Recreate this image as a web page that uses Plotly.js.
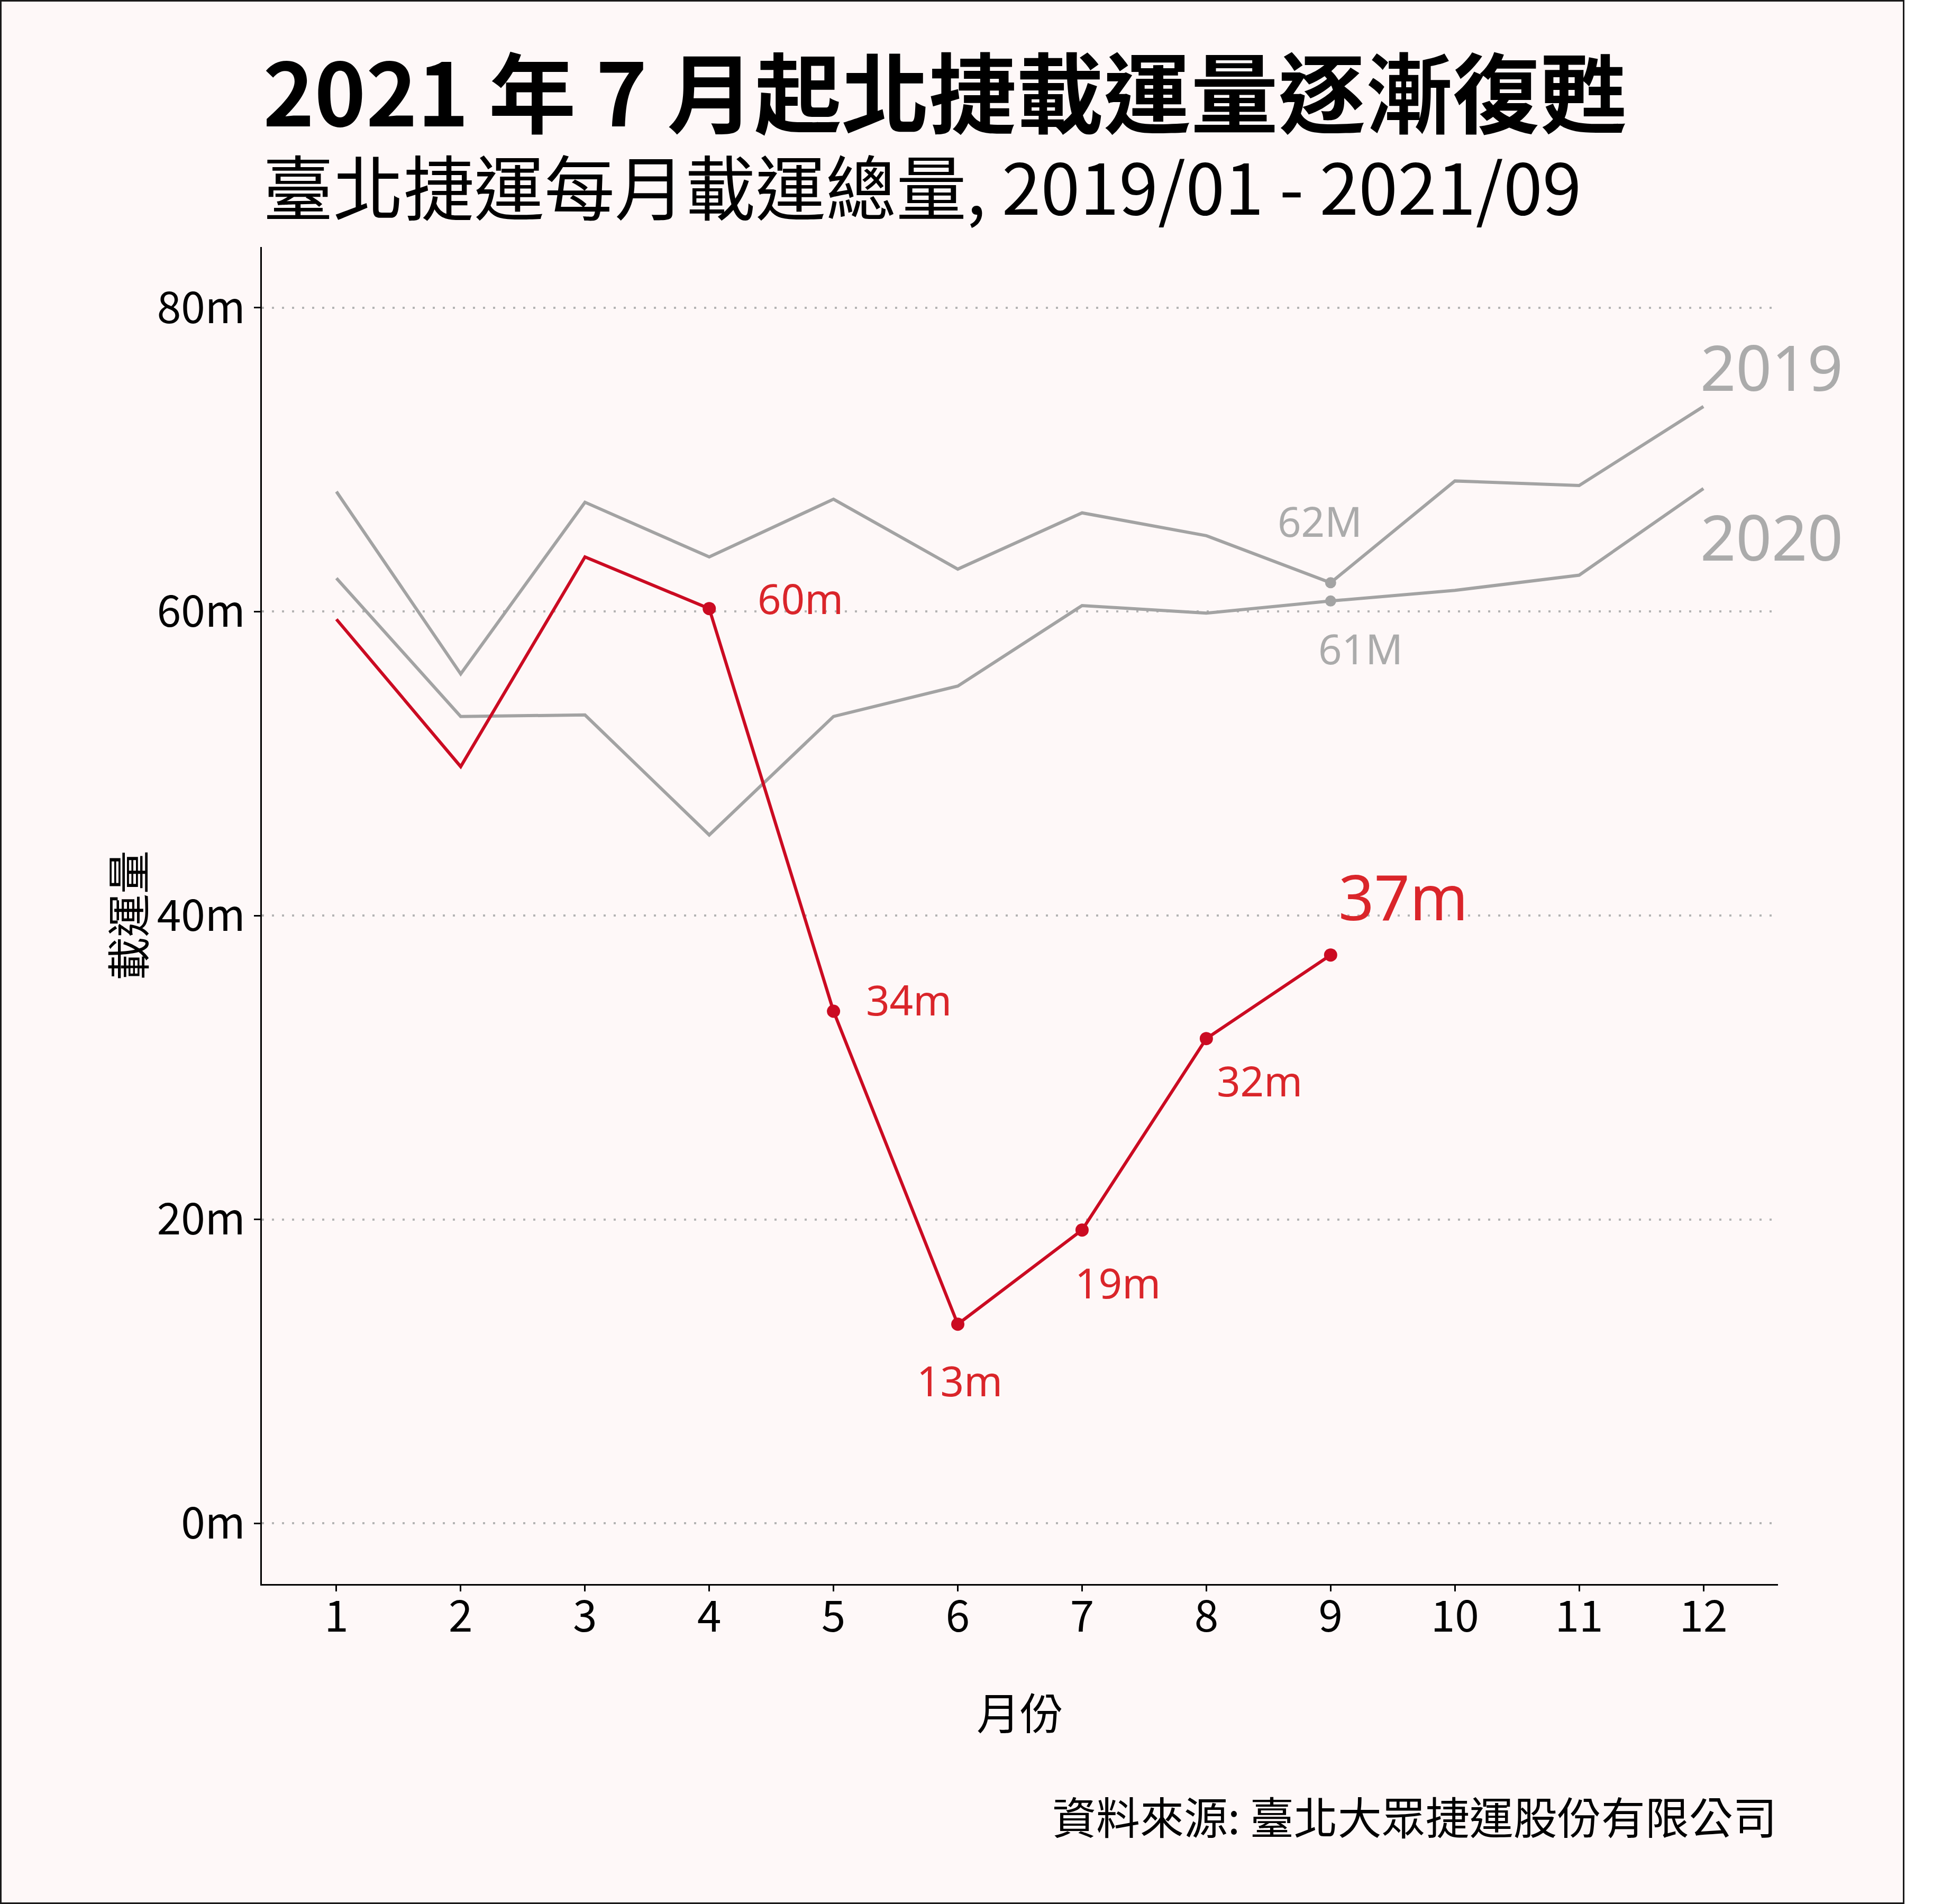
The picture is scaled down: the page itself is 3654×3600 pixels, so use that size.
<!DOCTYPE html>
<html>
<head>
<meta charset="utf-8">
<script src="https://cdn.plot.ly/plotly-3.0.1.min.js"></script>
<style>
html, body { margin: 0; padding: 0; background: #ffffff; }
#chart { position: absolute; left: 0; top: 0; width: 3600px; height: 3600px; }
#frame { position: absolute; left: 0; top: 0; width: 3600px; height: 3600px; box-sizing: border-box; border: 3px solid #1a1a1a; pointer-events: none; }
</style>
</head>
<body>
<div id="chart"></div>
<div id="frame"></div>
<script>
// ---- data (millions of riders per month) ----
const months = [1, 2, 3, 4, 5, 6, 7, 8, 9, 10, 11, 12];
const ridership2019 = [67.9, 55.9, 67.2, 63.6, 67.4, 62.8, 66.5, 65.0, 61.9, 68.6, 68.3, 73.5];
const ridership2020 = [62.2, 53.1, 53.2, 45.3, 53.1, 55.1, 60.4, 59.9, 60.7, 61.4, 62.4, 68.1];
const ridership2021 = [59.5, 49.8, 63.6, 60.2, 33.7, 13.1, 19.3, 31.9, 37.4];
const yTickVals = [0, 20, 40, 60, 80];
const yTickText = ['0m', '20m', '40m', '60m', '80m'];
const labelMonths2021 = [4, 5, 6, 7, 8, 9];
const labels2021 = ['60m', '34m', '13m', '19m', '32m', '37m'];
const label2019Sep = '62M';
const label2020Sep = '61M';
const seriesNames = ['2019', '2020', '2021'];

const RED = '#CB0B22';
const RED_TXT = '#DA252A';
const GREY = '#A3A3A3';
const GREY_TXT = '#ABABAB';
const CJK = '"Noto Sans CJK TC", "Noto Sans CJK SC", sans-serif';
const LAT = '"Noto Sans", "Open Sans", sans-serif';

const traces = [
  { x: months, y: ridership2019, mode: 'lines', line: { color: GREY, width: 6 }, name: seriesNames[0], hoverinfo: 'skip' },
  { x: months, y: ridership2020, mode: 'lines', line: { color: GREY, width: 6 }, name: seriesNames[1], hoverinfo: 'skip' },
  { x: [months[8], months[8]], y: [ridership2019[8], ridership2020[8]], mode: 'markers',
    marker: { color: GREY, size: 21 }, hoverinfo: 'skip' },
  { x: months.slice(0, ridership2021.length), y: ridership2021, mode: 'lines', line: { color: RED, width: 6 }, name: seriesNames[2], hoverinfo: 'skip' },
  { x: labelMonths2021, y: labelMonths2021.map(m => ridership2021[m - 1]), mode: 'markers',
    marker: { color: RED, size: 25 }, hoverinfo: 'skip' }
];

// label offsets (px) relative to each point
const offs2021 = [[172, 20], [142, 22], [3, -106], [68, -99], [101, -79], [137, 111]];
const annotations = [];
labelMonths2021.forEach((m, i) => {
  annotations.push({
    x: m, y: ridership2021[m - 1], xref: 'x', yref: 'y', text: labels2021[i], showarrow: false,
    xshift: offs2021[i][0], yshift: offs2021[i][1],
    font: { family: LAT, size: i === labels2021.length - 1 ? 118 : 78, color: RED_TXT }
  });
});
annotations.push({ x: months[8], y: ridership2019[8], xref: 'x', yref: 'y', text: label2019Sep, showarrow: false,
  xshift: -20, yshift: 117, font: { family: LAT, size: 78, color: GREY_TXT } });
annotations.push({ x: months[8], y: ridership2020[8], xref: 'x', yref: 'y', text: label2020Sep, showarrow: false,
  xshift: 57, yshift: -90, font: { family: LAT, size: 78, color: GREY_TXT } });
annotations.push({ x: months[11], y: ridership2019[11], xref: 'x', yref: 'y', text: seriesNames[0], showarrow: false,
  xshift: 129, yshift: 75, font: { family: LAT, size: 118, color: GREY_TXT } });
annotations.push({ x: months[11], y: ridership2020[11], xref: 'x', yref: 'y', text: seriesNames[1], showarrow: false,
  xshift: 129, yshift: -91, font: { family: LAT, size: 118, color: GREY_TXT } });

// titles and captions
annotations.push({ xref: 'paper', yref: 'paper', x: 0, y: 1.1185, xanchor: 'left', yanchor: 'middle', showarrow: false,
  text: '2021 年 7 月起北捷載運量逐漸復甦', font: { family: CJK, size: 165, color: '#000', weight: 700 } });
annotations.push({ xref: 'paper', yref: 'paper', x: 0, y: 1.047, xanchor: 'left', yanchor: 'middle', showarrow: false,
  text: '臺北捷運每月載運總量, 2019/01 - 2021/09', font: { family: CJK, size: 133, color: '#000' } });
annotations.push({ xref: 'paper', yref: 'paper', x: 0.5, y: -0.0949, xanchor: 'center', yanchor: 'middle', showarrow: false,
  text: '月份', font: { family: CJK, size: 82, color: '#000' } });
annotations.push({ xref: 'paper', yref: 'paper', x: -0.0897, y: 0.5, xanchor: 'center', yanchor: 'middle', showarrow: false,
  textangle: -90, text: '載運量', font: { family: CJK, size: 82, color: '#000' } });
annotations.push({ xref: 'paper', yref: 'paper', x: 1, y: -0.1729, xanchor: 'right', yanchor: 'middle', showarrow: false,
  text: '資料來源: 臺北大眾捷運股份有限公司', font: { family: CJK, size: 83, color: '#000' } });

const layout = {
  width: 3600, height: 3600,
  paper_bgcolor: '#FEF8F8', plot_bgcolor: '#FEF8F8',
  margin: { l: 495, r: 239, t: 467, b: 605, pad: 0 },
  showlegend: false,
  xaxis: {
    range: [0.4, 12.6], tickvals: months, ticktext: months.map(String),
    showgrid: false, zeroline: false,
    showline: true, linecolor: '#000', linewidth: 3,
    ticks: 'outside', ticklen: 11, tickwidth: 3, tickcolor: '#000',
    ticklabelstandoff: -22,
    tickfont: { family: CJK, size: 82, color: '#000' }
  },
  yaxis: {
    range: [-4, 84], tickvals: yTickVals, ticktext: yTickText,
    showgrid: true, gridcolor: '#B4B4B4', gridwidth: 4, griddash: '4px,15px',
    zeroline: false,
    showline: true, linecolor: '#000', linewidth: 3,
    ticks: 'outside', ticklen: 12, tickwidth: 3, tickcolor: '#000',
    tickfont: { family: CJK, size: 82, color: '#000' }
  },
  annotations: annotations
};

Plotly.newPlot('chart', traces, layout, { staticPlot: true, displayModeBar: false });
</script>
</body>
</html>
